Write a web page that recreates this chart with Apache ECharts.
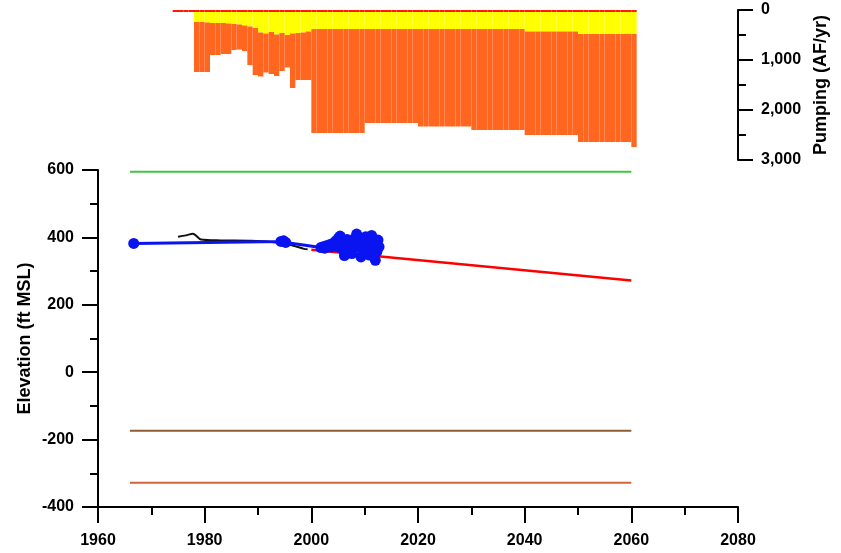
<!DOCTYPE html>
<html>
<head>
<meta charset="utf-8">
<title>echarts</title>
<script src="https://cdn.jsdelivr.net/npm/echarts@6/dist/echarts.min.js"></script>
<style>
  html, body { margin: 0; padding: 0; width: 100%; height: 100%; background: #fff; overflow: hidden; }
  #main { width: 841px; height: 553px; }
</style>
</head>
<body>
<div id="main"></div>
<script>
// pumping (AF/yr), one bar per year starting 1974 (one line per decade)
var pumpStart = 1974;
var pumpRed = [
  40,40,40,40,40,40,
  40,40,40,40,40,40,40,40,40,40,
  40,40,40,40,40,40,40,40,40,40,
  40,40,40,40,40,40,40,40,40,40,
  40,40,40,40,40,40,40,40,40,40,
  40,40,40,40,40,40,40,40,40,40,
  40,40,40,40,40,40,40,40,40,40,
  40,40,40,40,40,40,40,40,40,40,
  40,40,40,40,40,40,40,40,40,40,
  40];
var pumpYellow = [
  0,0,0,0,200,200,
  210,220,220,220,230,240,250,270,290,320,
  410,430,400,450,420,460,430,420,410,390,
  340,340,340,340,340,340,340,340,340,340,
  340,340,340,340,340,340,340,340,340,340,
  340,340,340,340,340,340,340,340,340,340,
  340,340,340,340,340,340,340,340,340,340,
  390,390,390,390,390,390,390,390,390,390,
  440,440,440,440,440,440,440,440,440,440,
  440];
var pumpOrange = [
  0,0,0,0,1000,1000,
  990,640,640,620,610,520,500,510,770,940,
  880,780,840,830,760,650,1090,940,950,970,
  2080,2080,2080,2080,2080,2080,2080,2080,2080,2080,
  1880,1880,1880,1880,1880,1880,1880,1880,1880,1880,
  1950,1950,1950,1950,1950,1950,1950,1950,1950,1950,
  2020,2020,2020,2020,2020,2020,2020,2020,2020,2020,
  2070,2070,2070,2070,2070,2070,2070,2070,2070,2070,
  2160,2160,2160,2160,2160,2160,2160,2160,2160,2160,
  2260];

// elevation (ft MSL)
var observed = [[1966.7,382],[1994.3,388],[1994.8,390],[1995.2,385],[2001.8,370],[2002.2,372],[2002.5,368],
  [2002.8,375],[2003.1,371],[2003.4,378],[2003.7,372],[2004.0,382],[2004.3,376],[2004.6,390],[2004.9,372],
  [2005.1,398],[2005.4,404],[2005.7,388],[2005.9,364],[2006.2,346],[2006.4,372],[2006.7,394],[2007.0,386],
  [2007.3,370],[2007.6,352],[2007.9,374],[2008.2,398],[2008.5,410],[2008.8,394],[2009.0,370],[2009.3,342],
  [2009.6,365],[2009.9,392],[2010.2,402],[2010.5,378],[2010.8,348],[2011.0,372],[2011.3,406],[2011.5,396],
  [2011.8,360],[2012.0,332],[2012.3,358],[2012.5,392],[2012.7,372]];
var simHist = [[1975,402],[1976.5,406],[1977.8,411],[1979.3,394],[1983,391],[1988.7,390],[1994.3,383],[1997,374],[1998.6,366],[1999.3,365]];
var simFuture = [[2000,363],[2012,345],[2060,272]];
var topLevel = [[1966,595],[2060,595]];
var midLevel = [[1966,-174],[2060,-174]];
var lowLevel = [[1966,-328],[2060,-328]];

var yearTicks = { min: 1960, max: 2080, interval: 20 };
var elevTicks = { min: -400, max: 600, interval: 200 };
var pumpTicks = { min: 0, max: 3000, interval: 1000 };

// one category per year, 1960..2079, so each bar fills [year, year+1)
var yearCats = [];
for (var y = yearTicks.min; y < yearTicks.max; y++) yearCats.push(String(y));

function withYears(vals) {
  return vals.map(function (v, i) { return [String(pumpStart + i), v]; });
}

var font = 'Liberation Sans';
var labelStyle = { color: '#000', fontFamily: font, fontWeight: 'bold', fontSize: 16 };
var nameStyle = { color: '#000', fontFamily: font, fontWeight: 'bold', fontSize: 18 };
var lineBlack = { show: true, onZero: false, lineStyle: { color: '#000', width: 2 } };
var tickBlack = { show: true, length: 16, lineStyle: { color: '#000', width: 2 } };
var minorBlack = { show: true, splitNumber: 2, length: 8, lineStyle: { color: '#000', width: 2 } };

var myChart = echarts.init(document.getElementById('main'));
myChart.setOption({
  animation: false,
  backgroundColor: '#fff',
  grid: [
    { left: 98, right: 103, top: 10, height: 150 },
    { left: 98, right: 103, top: 170, bottom: 46 }
  ],
  xAxis: [
    { gridIndex: 0, type: 'category', data: yearCats, boundaryGap: true, show: false },
    { gridIndex: 1, type: 'value', min: yearTicks.min, max: yearTicks.max, interval: yearTicks.interval,
      axisLine: lineBlack, splitLine: { show: false }, axisTick: tickBlack, minorTick: minorBlack,
      axisLabel: Object.assign({ margin: 26, formatter: function (v) { return String(v); } }, labelStyle) }
  ],
  yAxis: [
    { gridIndex: 0, type: 'value', position: 'right', inverse: true,
      min: pumpTicks.min, max: pumpTicks.max, interval: pumpTicks.interval,
      name: 'Pumping (AF/yr)', nameLocation: 'middle', nameGap: 67, nameRotate: 90, nameTextStyle: nameStyle,
      axisLine: lineBlack, splitLine: { show: false },
      axisTick: { show: true, length: 15, lineStyle: { color: '#000', width: 2 } }, minorTick: minorBlack,
      axisLabel: Object.assign({ margin: 23, formatter: function (v) { return v.toLocaleString('en-US'); } }, labelStyle) },
    { gridIndex: 1, type: 'value', min: elevTicks.min, max: elevTicks.max, interval: elevTicks.interval,
      name: 'Elevation (ft MSL)', nameLocation: 'middle', nameGap: 64, nameMoveOverlap: false, nameTextStyle: nameStyle,
      axisLine: lineBlack, splitLine: { show: false }, axisTick: tickBlack, minorTick: minorBlack,
      axisLabel: Object.assign({ margin: 24 }, labelStyle) }
  ],
  series: [
    { type: 'bar', xAxisIndex: 0, yAxisIndex: 0, stack: 'pump', barCategoryGap: '0%', data: withYears(pumpRed),
      itemStyle: { color: '#ff1a00' } },
    { type: 'bar', xAxisIndex: 0, yAxisIndex: 0, stack: 'pump', barCategoryGap: '0%', data: withYears(pumpYellow),
      itemStyle: { color: '#ffff00' } },
    { type: 'bar', xAxisIndex: 0, yAxisIndex: 0, stack: 'pump', barCategoryGap: '0%', data: withYears(pumpOrange),
      itemStyle: { color: '#ff661f' } },
    { type: 'line', xAxisIndex: 1, yAxisIndex: 1, data: topLevel, showSymbol: false,
      lineStyle: { color: '#44c444', width: 2 } },
    { type: 'line', xAxisIndex: 1, yAxisIndex: 1, data: midLevel, showSymbol: false,
      lineStyle: { color: '#8e5d33', width: 2 } },
    { type: 'line', xAxisIndex: 1, yAxisIndex: 1, data: lowLevel, showSymbol: false,
      lineStyle: { color: '#d4643a', width: 2 } },
    { type: 'line', xAxisIndex: 1, yAxisIndex: 1, data: simFuture, showSymbol: false,
      lineStyle: { color: '#ff0000', width: 2.5 } },
    { type: 'line', xAxisIndex: 1, yAxisIndex: 1, data: simHist, showSymbol: false, smooth: 0.3,
      lineStyle: { color: '#111', width: 2 } },
    { type: 'line', xAxisIndex: 1, yAxisIndex: 1, data: observed, symbol: 'circle', symbolSize: 11,
      itemStyle: { color: '#0a14f0' }, lineStyle: { color: '#0a14f0', width: 3 } }
  ]
});
</script>
</body>
</html>
